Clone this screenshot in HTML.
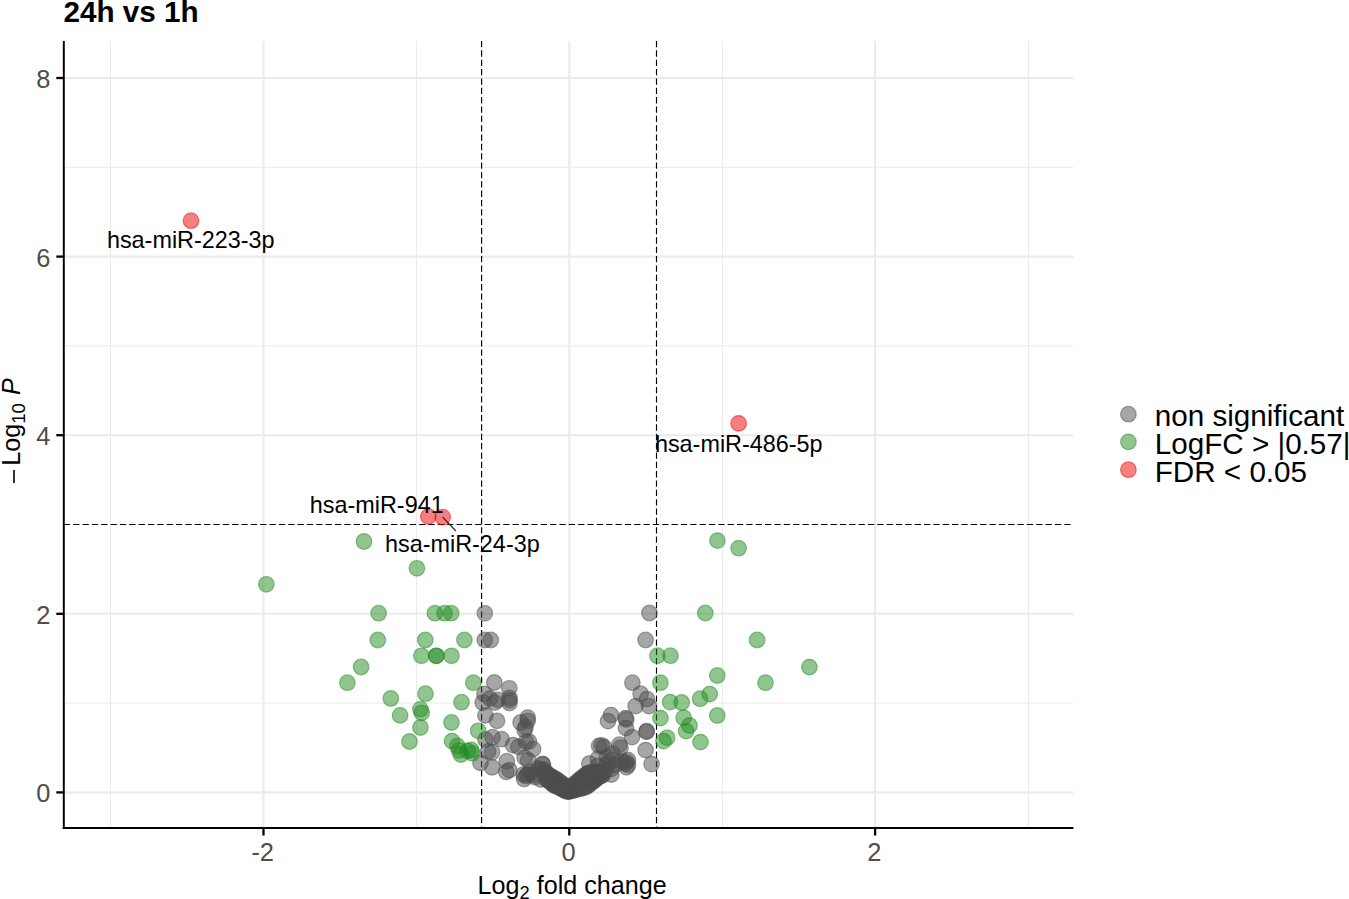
<!DOCTYPE html><html><head><meta charset="utf-8"><title>24h vs 1h</title><style>html,body{margin:0;padding:0;background:#fff;}body{width:1349px;height:899px;overflow:hidden;position:relative;font-family:"Liberation Sans",sans-serif;}svg{position:absolute;left:0;top:0;}text{font-family:"Liberation Sans",sans-serif;}</style></head><body>
<svg width="1349" height="899" viewBox="0 0 1349 899">
<rect x="0" y="0" width="1349" height="899" fill="#fff"/>
<g stroke="#ebebeb" fill="none"><line x1="110.5" x2="110.5" y1="41.0" y2="828.0" stroke-width="1"/><line x1="416.5" x2="416.5" y1="41.0" y2="828.0" stroke-width="1"/><line x1="722.5" x2="722.5" y1="41.0" y2="828.0" stroke-width="1"/><line x1="1028.5" x2="1028.5" y1="41.0" y2="828.0" stroke-width="1"/><line y1="703.1" y2="703.1" x1="64.8" x2="1073.4" stroke-width="1"/><line y1="345.9" y2="345.9" x1="64.8" x2="1073.4" stroke-width="1"/><line y1="167.3" y2="167.3" x1="64.8" x2="1073.4" stroke-width="1"/><line x1="263.5" x2="263.5" y1="41.0" y2="828.0" stroke-width="2.1"/><line x1="569.3" x2="569.3" y1="41.0" y2="828.0" stroke-width="2.1"/><line x1="875.1" x2="875.1" y1="41.0" y2="828.0" stroke-width="2.1"/><line y1="792.4" y2="792.4" x1="64.8" x2="1073.4" stroke-width="2.1"/><line y1="613.8" y2="613.8" x1="64.8" x2="1073.4" stroke-width="2.1"/><line y1="435.2" y2="435.2" x1="64.8" x2="1073.4" stroke-width="2.1"/><line y1="256.6" y2="256.6" x1="64.8" x2="1073.4" stroke-width="2.1"/><line y1="78.0" y2="78.0" x1="64.8" x2="1073.4" stroke-width="2.1"/></g>
<g stroke="#000" stroke-width="1.15" stroke-dasharray="6.3 3.05" fill="none"><line x1="481.6" x2="481.6" y1="41.0" y2="828.0"/><line x1="656.5" x2="656.5" y1="41.0" y2="828.0"/><line x1="63.8" x2="1073.4" y1="524.45" y2="524.45"/></g>
<g fill="#4d4d4d" fill-opacity="0.5" stroke="#4d4d4d" stroke-opacity="0.5" stroke-width="1.2"><circle cx="484.8" cy="613.3" r="7.8"/><circle cx="484.8" cy="640.0" r="7.8"/><circle cx="490.8" cy="640.0" r="7.8"/><circle cx="494.3" cy="682.5" r="7.8"/><circle cx="509.3" cy="688.3" r="7.8"/><circle cx="484.5" cy="694.0" r="7.8"/><circle cx="489.9" cy="698.5" r="7.8"/><circle cx="497.9" cy="699.8" r="7.8"/><circle cx="509.5" cy="698.0" r="7.8"/><circle cx="509.5" cy="700.3" r="7.8"/><circle cx="482.7" cy="702.5" r="7.8"/><circle cx="494.8" cy="702.5" r="7.8"/><circle cx="509.5" cy="703.0" r="7.8"/><circle cx="485.4" cy="715.4" r="7.8"/><circle cx="497.0" cy="720.8" r="7.8"/><circle cx="520.6" cy="722.5" r="7.8"/><circle cx="527.7" cy="717.6" r="7.8"/><circle cx="527.7" cy="720.8" r="7.8"/><circle cx="525.5" cy="727.0" r="7.8"/><circle cx="485.4" cy="739.5" r="7.8"/><circle cx="492.5" cy="737.2" r="7.8"/><circle cx="501.6" cy="739.2" r="7.8"/><circle cx="488.1" cy="751.4" r="7.8"/><circle cx="492.1" cy="752.3" r="7.8"/><circle cx="480.5" cy="762.9" r="7.8"/><circle cx="492.1" cy="767.4" r="7.8"/><circle cx="506.8" cy="761.2" r="7.8"/><circle cx="506.3" cy="771.9" r="7.8"/><circle cx="509.5" cy="770.1" r="7.8"/><circle cx="513.0" cy="745.1" r="7.8"/><circle cx="518.4" cy="746.9" r="7.8"/><circle cx="525.9" cy="741.6" r="7.8"/><circle cx="529.0" cy="741.6" r="7.8"/><circle cx="533.1" cy="749.1" r="7.8"/><circle cx="524.6" cy="757.6" r="7.8"/><circle cx="528.2" cy="760.3" r="7.8"/><circle cx="524.6" cy="730.0" r="7.8"/><circle cx="523.7" cy="774.5" r="7.8"/><circle cx="527.7" cy="774.5" r="7.8"/><circle cx="524.1" cy="779.0" r="7.8"/><circle cx="542.4" cy="763.8" r="7.8"/><circle cx="538.0" cy="768.3" r="7.8"/><circle cx="544.2" cy="772.7" r="7.8"/><circle cx="649.4" cy="613.0" r="7.8"/><circle cx="645.6" cy="640.0" r="7.8"/><circle cx="632.4" cy="682.7" r="7.8"/><circle cx="640.6" cy="693.7" r="7.8"/><circle cx="647.0" cy="699.1" r="7.8"/><circle cx="635.6" cy="706.1" r="7.8"/><circle cx="649.0" cy="706.1" r="7.8"/><circle cx="611.0" cy="715.1" r="7.8"/><circle cx="608.0" cy="721.1" r="7.8"/><circle cx="625.6" cy="718.1" r="7.8"/><circle cx="626.3" cy="719.5" r="7.8"/><circle cx="626.0" cy="728.1" r="7.8"/><circle cx="646.6" cy="731.1" r="7.8"/><circle cx="646.6" cy="731.8" r="7.8"/><circle cx="632.0" cy="737.1" r="7.8"/><circle cx="645.6" cy="750.1" r="7.8"/><circle cx="651.6" cy="764.1" r="7.8"/><circle cx="619.3" cy="744.7" r="7.8"/><circle cx="620.5" cy="747.7" r="7.8"/><circle cx="599.1" cy="745.9" r="7.8"/><circle cx="601.6" cy="745.3" r="7.8"/><circle cx="604.0" cy="747.1" r="7.8"/><circle cx="612.6" cy="753.8" r="7.8"/><circle cx="627.9" cy="760.0" r="7.8"/><circle cx="624.8" cy="763.6" r="7.8"/><circle cx="626.6" cy="767.3" r="7.8"/><circle cx="589.3" cy="763.6" r="7.8"/><circle cx="597.9" cy="758.7" r="7.8"/><circle cx="597.9" cy="766.0" r="7.8"/><circle cx="611.3" cy="774.6" r="7.8"/><circle cx="568.6" cy="791.6" r="7.8"/><circle cx="568.7" cy="790.5" r="7.8"/><circle cx="568.8" cy="789.5" r="7.8"/><circle cx="570.6" cy="791.1" r="7.8"/><circle cx="570.4" cy="789.6" r="7.8"/><circle cx="570.2" cy="788.0" r="7.8"/><circle cx="572.6" cy="790.7" r="7.8"/><circle cx="572.1" cy="788.6" r="7.8"/><circle cx="571.5" cy="786.5" r="7.8"/><circle cx="574.6" cy="790.1" r="7.8"/><circle cx="573.8" cy="787.7" r="7.8"/><circle cx="573.1" cy="785.2" r="7.8"/><circle cx="576.5" cy="789.6" r="7.8"/><circle cx="575.6" cy="786.8" r="7.8"/><circle cx="574.7" cy="784.0" r="7.8"/><circle cx="578.5" cy="789.0" r="7.8"/><circle cx="577.4" cy="785.9" r="7.8"/><circle cx="576.3" cy="782.7" r="7.8"/><circle cx="580.5" cy="788.5" r="7.8"/><circle cx="579.1" cy="784.9" r="7.8"/><circle cx="577.7" cy="781.3" r="7.8"/><circle cx="582.5" cy="788.1" r="7.8"/><circle cx="580.8" cy="784.0" r="7.8"/><circle cx="579.2" cy="779.9" r="7.8"/><circle cx="584.4" cy="787.5" r="7.8"/><circle cx="582.6" cy="783.1" r="7.8"/><circle cx="580.8" cy="778.7" r="7.8"/><circle cx="586.4" cy="786.7" r="7.8"/><circle cx="584.4" cy="782.1" r="7.8"/><circle cx="582.4" cy="777.5" r="7.8"/><circle cx="588.0" cy="785.5" r="7.8"/><circle cx="586.0" cy="780.8" r="7.8"/><circle cx="584.0" cy="776.2" r="7.8"/><circle cx="589.6" cy="784.2" r="7.8"/><circle cx="587.6" cy="779.5" r="7.8"/><circle cx="585.6" cy="774.9" r="7.8"/><circle cx="591.1" cy="782.9" r="7.8"/><circle cx="589.1" cy="778.3" r="7.8"/><circle cx="587.1" cy="773.6" r="7.8"/><circle cx="592.8" cy="781.7" r="7.8"/><circle cx="590.9" cy="777.3" r="7.8"/><circle cx="589.0" cy="772.9" r="7.8"/><circle cx="594.5" cy="780.5" r="7.8"/><circle cx="592.7" cy="776.4" r="7.8"/><circle cx="590.9" cy="772.3" r="7.8"/><circle cx="596.0" cy="779.1" r="7.8"/><circle cx="594.5" cy="775.6" r="7.8"/><circle cx="592.9" cy="772.0" r="7.8"/><circle cx="597.5" cy="777.8" r="7.8"/><circle cx="596.2" cy="774.9" r="7.8"/><circle cx="594.9" cy="772.1" r="7.8"/><circle cx="599.3" cy="776.8" r="7.8"/><circle cx="598.1" cy="774.5" r="7.8"/><circle cx="597.0" cy="772.2" r="7.8"/><circle cx="601.2" cy="775.9" r="7.8"/><circle cx="600.1" cy="774.1" r="7.8"/><circle cx="599.0" cy="772.3" r="7.8"/><circle cx="603.0" cy="775.0" r="7.8"/><circle cx="602.0" cy="773.7" r="7.8"/><circle cx="601.0" cy="772.4" r="7.8"/><circle cx="568.4" cy="791.6" r="7.8"/><circle cx="568.3" cy="790.5" r="7.8"/><circle cx="568.2" cy="789.5" r="7.8"/><circle cx="566.5" cy="791.4" r="7.8"/><circle cx="566.6" cy="789.6" r="7.8"/><circle cx="566.7" cy="787.8" r="7.8"/><circle cx="564.9" cy="790.6" r="7.8"/><circle cx="565.0" cy="788.4" r="7.8"/><circle cx="565.1" cy="786.1" r="7.8"/><circle cx="563.3" cy="789.7" r="7.8"/><circle cx="563.3" cy="787.2" r="7.8"/><circle cx="563.3" cy="784.7" r="7.8"/><circle cx="561.6" cy="788.7" r="7.8"/><circle cx="561.6" cy="786.0" r="7.8"/><circle cx="561.5" cy="783.3" r="7.8"/><circle cx="560.0" cy="787.9" r="7.8"/><circle cx="559.8" cy="784.9" r="7.8"/><circle cx="559.6" cy="781.9" r="7.8"/><circle cx="558.3" cy="787.1" r="7.8"/><circle cx="558.1" cy="783.8" r="7.8"/><circle cx="557.9" cy="780.5" r="7.8"/><circle cx="556.5" cy="786.4" r="7.8"/><circle cx="556.3" cy="782.8" r="7.8"/><circle cx="556.0" cy="779.2" r="7.8"/><circle cx="554.8" cy="785.8" r="7.8"/><circle cx="554.4" cy="781.9" r="7.8"/><circle cx="554.0" cy="778.1" r="7.8"/><circle cx="553.3" cy="784.8" r="7.8"/><circle cx="552.6" cy="780.9" r="7.8"/><circle cx="552.0" cy="777.0" r="7.8"/><circle cx="551.9" cy="783.4" r="7.8"/><circle cx="551.0" cy="779.6" r="7.8"/><circle cx="550.0" cy="775.8" r="7.8"/><circle cx="550.6" cy="782.1" r="7.8"/><circle cx="549.4" cy="778.3" r="7.8"/><circle cx="548.1" cy="774.5" r="7.8"/><circle cx="549.2" cy="781.0" r="7.8"/><circle cx="547.7" cy="777.0" r="7.8"/><circle cx="546.3" cy="773.1" r="7.8"/><circle cx="547.6" cy="780.0" r="7.8"/><circle cx="546.2" cy="775.6" r="7.8"/><circle cx="544.9" cy="771.3" r="7.8"/><circle cx="546.0" cy="779.0" r="7.8"/><circle cx="544.8" cy="774.2" r="7.8"/><circle cx="543.5" cy="769.5" r="7.8"/><circle cx="626.5" cy="762.0" r="7.8"/><circle cx="628.0" cy="765.0" r="7.8"/><circle cx="609.0" cy="762.0" r="7.8"/><circle cx="615.0" cy="765.0" r="7.8"/><circle cx="606.0" cy="765.0" r="7.8"/><circle cx="611.0" cy="769.0" r="7.8"/><circle cx="526.0" cy="776.0" r="7.8"/><circle cx="530.0" cy="772.0" r="7.8"/><circle cx="533.0" cy="775.0" r="7.8"/><circle cx="540.0" cy="770.0" r="7.8"/><circle cx="541.0" cy="779.5" r="7.8"/><circle cx="535.0" cy="777.0" r="7.8"/><circle cx="543.0" cy="764.6" r="7.8"/><circle cx="607.0" cy="757.0" r="7.8"/><circle cx="613.0" cy="760.0" r="7.8"/><circle cx="605.6" cy="770.0" r="7.8"/><circle cx="621.6" cy="761.2" r="7.8"/></g>
<g fill="#228b22" fill-opacity="0.5" stroke="#228b22" stroke-opacity="0.5" stroke-width="1.2"><circle cx="364.0" cy="541.5" r="7.8"/><circle cx="416.9" cy="568.3" r="7.8"/><circle cx="266.3" cy="584.3" r="7.8"/><circle cx="378.6" cy="613.2" r="7.8"/><circle cx="434.9" cy="613.2" r="7.8"/><circle cx="444.6" cy="613.2" r="7.8"/><circle cx="451.2" cy="613.2" r="7.8"/><circle cx="377.8" cy="640.0" r="7.8"/><circle cx="425.3" cy="640.0" r="7.8"/><circle cx="464.4" cy="640.0" r="7.8"/><circle cx="421.4" cy="655.8" r="7.8"/><circle cx="436.2" cy="655.8" r="7.8"/><circle cx="436.4" cy="655.8" r="7.8"/><circle cx="451.5" cy="655.8" r="7.8"/><circle cx="361.1" cy="667.0" r="7.8"/><circle cx="347.4" cy="682.7" r="7.8"/><circle cx="473.3" cy="682.7" r="7.8"/><circle cx="425.5" cy="693.7" r="7.8"/><circle cx="390.8" cy="698.5" r="7.8"/><circle cx="461.5" cy="702.2" r="7.8"/><circle cx="420.4" cy="709.2" r="7.8"/><circle cx="421.7" cy="712.8" r="7.8"/><circle cx="400.1" cy="715.4" r="7.8"/><circle cx="451.5" cy="722.5" r="7.8"/><circle cx="420.4" cy="727.5" r="7.8"/><circle cx="478.2" cy="730.8" r="7.8"/><circle cx="409.5" cy="741.5" r="7.8"/><circle cx="452.0" cy="741.1" r="7.8"/><circle cx="457.4" cy="746.0" r="7.8"/><circle cx="459.1" cy="750.5" r="7.8"/><circle cx="460.9" cy="754.5" r="7.8"/><circle cx="467.6" cy="750.9" r="7.8"/><circle cx="471.2" cy="750.0" r="7.8"/><circle cx="472.1" cy="753.2" r="7.8"/><circle cx="717.4" cy="540.6" r="7.8"/><circle cx="738.6" cy="548.2" r="7.8"/><circle cx="705.3" cy="613.0" r="7.8"/><circle cx="757.1" cy="640.0" r="7.8"/><circle cx="657.4" cy="655.7" r="7.8"/><circle cx="670.5" cy="655.7" r="7.8"/><circle cx="809.4" cy="667.1" r="7.8"/><circle cx="717.3" cy="675.5" r="7.8"/><circle cx="660.4" cy="682.7" r="7.8"/><circle cx="765.5" cy="682.7" r="7.8"/><circle cx="709.7" cy="694.1" r="7.8"/><circle cx="700.1" cy="698.7" r="7.8"/><circle cx="670.1" cy="702.1" r="7.8"/><circle cx="681.7" cy="702.5" r="7.8"/><circle cx="717.3" cy="715.5" r="7.8"/><circle cx="660.4" cy="718.1" r="7.8"/><circle cx="683.7" cy="717.7" r="7.8"/><circle cx="689.5" cy="725.5" r="7.8"/><circle cx="686.1" cy="731.1" r="7.8"/><circle cx="667.1" cy="737.7" r="7.8"/><circle cx="663.5" cy="741.1" r="7.8"/><circle cx="700.5" cy="742.1" r="7.8"/></g>
<g fill="#ee0000" fill-opacity="0.5" stroke="#ee0000" stroke-opacity="0.5" stroke-width="1.2"><circle cx="191.0" cy="220.7" r="7.8"/><circle cx="428.3" cy="516.6" r="7.8"/><circle cx="442.7" cy="517.2" r="7.8"/><circle cx="738.6" cy="423.4" r="7.8"/></g>
<line x1="442.7" y1="517.2" x2="455.9" y2="531" stroke="#222" stroke-width="1.1"/>
<g stroke="#000" stroke-width="1.95" fill="none"><line x1="63.8" x2="63.8" y1="41.0" y2="829.05"/><line x1="62.75" x2="1073.4" y1="828.0" y2="828.0"/>
<line x1="56.3" x2="63.8" y1="792.4" y2="792.4" stroke-width="2.3"/>
<line x1="56.3" x2="63.8" y1="613.8" y2="613.8" stroke-width="2.3"/>
<line x1="56.3" x2="63.8" y1="435.2" y2="435.2" stroke-width="2.3"/>
<line x1="56.3" x2="63.8" y1="256.6" y2="256.6" stroke-width="2.3"/>
<line x1="56.3" x2="63.8" y1="78.0" y2="78.0" stroke-width="2.3"/>
<line x1="263.5" x2="263.5" y1="828.0" y2="835.5" stroke-width="2.3"/>
<line x1="569.3" x2="569.3" y1="828.0" y2="835.5" stroke-width="2.3"/>
<line x1="875.1" x2="875.1" y1="828.0" y2="835.5" stroke-width="2.3"/>
</g>
<g fill="#4d4d4d" font-size="25.4px">
<text x="50.3" y="802.4" text-anchor="end">0</text>
<text x="50.3" y="623.8" text-anchor="end">2</text>
<text x="50.3" y="445.2" text-anchor="end">4</text>
<text x="50.3" y="266.6" text-anchor="end">6</text>
<text x="50.3" y="88.0" text-anchor="end">8</text>
<text x="262.7" y="861.3" text-anchor="middle">-2</text>
<text x="568.5" y="861.3" text-anchor="middle">0</text>
<text x="874.3" y="861.3" text-anchor="middle">2</text>
</g>
<g fill="#000" font-size="23.4px">
<text x="106.9" y="247.5">hsa-miR-223-3p</text>
<text x="309.8" y="513.2">hsa-miR-941</text>
<text x="385.0" y="552.0">hsa-miR-24-3p</text>
<text x="654.9" y="452.1">hsa-miR-486-5p</text>
</g>
<text x="63.5" y="22" font-size="29.65px" font-weight="bold" fill="#000">24h vs 1h</text>
<text x="477.6" y="893.6" font-size="25.15px" fill="#000">Log<tspan font-size="18.3px" dy="5.0">2</tspan><tspan dy="-5.0"> fold change</tspan></text>
<line x1="14" x2="14" y1="470.1" y2="482.9" stroke="#000" stroke-width="1.6"/>
<g transform="translate(20,465.8) rotate(-90)"><text x="0" y="0" font-size="25.15px" fill="#000"><tspan>Log</tspan><tspan font-size="18.5px" dy="5.0">10</tspan><tspan dy="-5.0" dx="1.2" font-style="italic"> P</tspan></text></g>
<g fill-opacity="0.5" stroke-opacity="0.5" stroke-width="1.2">
<circle cx="1128.4" cy="414.2" r="7.8" fill="#4d4d4d" stroke="#4d4d4d"/>
<circle cx="1128.4" cy="441.9" r="7.8" fill="#228b22" stroke="#228b22"/>
<circle cx="1128.4" cy="469.7" r="7.8" fill="#ee0000" stroke="#ee0000"/>
</g>
<g fill="#000" font-size="29.65px"><text x="1154.7" y="426.3">non significant</text><text x="1154.7" y="453.9">LogFC &gt; |0.57|</text><text x="1154.7" y="481.5">FDR &lt; 0.05</text></g>
</svg></body></html>
